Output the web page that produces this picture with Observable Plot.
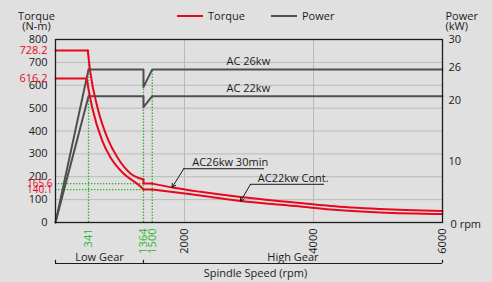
<!DOCTYPE html>
<html><head><meta charset="utf-8">
<script src="https://cdn.jsdelivr.net/npm/d3@7"></script>
<script src="https://cdn.jsdelivr.net/npm/@observablehq/plot@0.6"></script>
<style>
html,body{margin:0;padding:0;background:#dfe0df;}
#chart{position:relative;width:492px;height:282px;overflow:hidden;}
svg{font-family:"Open Sans",sans-serif;display:block;}
</style></head><body><div id="chart"></div>
<script>
// ---- data ----
const torqueTicks = [0, 100, 200, 300, 400, 500, 600, 700, 800];
const redTickValues = [752, 630];
const redTickLabels = ["728.2", "616.2"];
const redTickValuesLow = [170, 144];
const redTickLabelsLow = ["165.6", "140.1"];
const powerTickValues = [30, 25.4, 20, 10];
const powerTickLabels = ["30", "26", "20", "10"];
const speedMarks = [512, 1364, 1500];
const speedMarkLabels = ["341", "1364", "1500"];
const speedTicks = [2000, 4000, 6000];

const lowGearRpm30 = [0, 500, 543, 651, 822, 961, 1163, 1364];
const lowGearTorque30 = [752, 752, 651, 503, 358, 284, 214, 188];
const lowGearRpmCont = [0, 481, 569, 724, 853, 1054, 1318, 1364];
const lowGearTorqueCont = [630, 630, 503, 358, 284, 214, 157, 144];
const shiftRpm30 = [1364, 1364, 1500];
const shiftTorque30 = [188, 170, 170];
const shiftRpmCont = [1364, 1500];
const shiftTorqueCont = [144, 144];
const highGearRpm = [1500, 1814, 2248, 2868, 3798, 4264, 5039, 6000];
const highGearTorque30 = [170, 153, 134, 111, 85, 72, 59, 50];
const highGearTorqueCont = [144, 133, 118, 94, 70, 57, 44, 37];

const powerRpm = [0, 512, 1364, 1364, 1500, 6000];
const power26 = [0, 25.1, 25.1, 22.2, 25.1, 25.1];
const power22 = [0, 20.7, 20.7, 18.9, 20.7, 20.7];

const acLabels = ["AC 26kw", "AC 22kw"];
const acLabelRpm = [2990, 2990];
const acLabelKw = [25.1, 20.7];

const callouts = [
  {text: "AC26kw 30min", tipRpm: 1809, tipT: 154, elbowRpm: 1989, elbowT: 235, textRpm: 2120, endRpm: 3240},
  {text: "AC22kw Cont.", tipRpm: 2868, tipT: 92, elbowRpm: 3023, elbowT: 167, textRpm: 3137, endRpm: 4171}
];
const gears = [
  {name: "Low Gear", from: 0, to: 1364},
  {name: "High Gear", from: 1364, to: 6000}
];

// ---- helpers ----
const K = 800 / 30; // kW -> torque-axis units
const rows = (xs, ys, seg) => xs.map((x, i) => ({x, y: ys[i], seg}));
const RED = "#e8071e", GRAY = "#4f4f4f", GREEN = "#2fb52f", INK = "#1b1b1b";

const straightRed = [
  ...rows(lowGearRpm30.slice(0, 2), lowGearTorque30.slice(0, 2), "a"),
  ...rows(lowGearRpmCont.slice(0, 2), lowGearTorqueCont.slice(0, 2), "b"),
  ...rows(shiftRpm30, shiftTorque30, "c"),
  ...rows(shiftRpmCont, shiftTorqueCont, "d")
];
const curvedRed = [
  ...rows(lowGearRpm30.slice(1), lowGearTorque30.slice(1), "e"),
  ...rows(lowGearRpmCont.slice(1), lowGearTorqueCont.slice(1), "f"),
  ...rows(highGearRpm, highGearTorque30, "g"),
  ...rows(highGearRpm, highGearTorqueCont, "h")
];
const powerRows = [
  ...rows(powerRpm, power26.map(v => v * K), "p26"),
  ...rows(powerRpm, power22.map(v => v * K), "p22")
];
const markTops = [lowGearTorque30[1], power26[3] * K, power26[4] * K];
const rightTicks = powerTickValues.map(v => v * K);

const chart = Plot.plot({
  width: 492, height: 282,
  marginTop: 39, marginBottom: 60, marginLeft: 55, marginRight: 50,
  style: {background: "transparent", fontFamily: "Open Sans", fontSize: "11px", color: INK},
  x: {domain: [0, 6000]},
  y: {domain: [0, 800]},
  marks: [
    Plot.gridY(torqueTicks, {stroke: "#b9bab9", strokeOpacity: 1}),
    Plot.gridX([2000, 4000], {stroke: "#b9bab9", strokeOpacity: 1}),
    // green dotted guides
    Plot.ruleX(speedMarks, {x: d => d, y1: 0, y2: (d, i) => markTops[i], stroke: GREEN, strokeWidth: 1.3, strokeDasharray: "1.4,1.6"}),
    Plot.ruleY(redTickValuesLow, {y: d => d, x1: 0, x2: 1364, stroke: GREEN, strokeWidth: 1.3, strokeDasharray: "1.4,1.6"}),
    // power
    Plot.line(powerRows, {x: "x", y: "y", z: "seg", stroke: GRAY, strokeWidth: 2}),
    // torque
    Plot.line(straightRed, {x: "x", y: "y", z: "seg", stroke: RED, strokeWidth: 2}),
    Plot.line(curvedRed, {x: "x", y: "y", z: "seg", stroke: RED, strokeWidth: 2, curve: "monotone-x"}),
    Plot.frame({stroke: INK, strokeWidth: 1.3}),
    // labels on power lines
    Plot.text(acLabels, {x: (d, i) => acLabelRpm[i], y: (d, i) => acLabelKw[i] * K, text: d => d, dy: -8, fontSize: 11, fill: INK}),
    // callouts
    Plot.ruleY(callouts, {y: "elbowT", x1: "elbowRpm", x2: "endRpm", stroke: INK, strokeWidth: 1}),
    Plot.arrow(callouts, {x1: "elbowRpm", y1: "elbowT", x2: "tipRpm", y2: "tipT", stroke: INK, strokeWidth: 1, headLength: 6}),
    Plot.text(callouts, {x: "textRpm", y: "elbowT", text: "text", textAnchor: "start", dy: -6, fontSize: 11, fill: INK}),
    // axes
    Plot.axisY(torqueTicks, {tickSize: 0, tickPadding: 8, label: null, fontSize: 11, fill: INK}),
    Plot.axisY(redTickValues, {tickSize: 0, tickPadding: 8, label: null, fontSize: 11, fill: RED,
      tickFormat: d => redTickLabels[redTickValues.indexOf(d)]}),
    Plot.axisY(redTickValuesLow, {tickSize: 0, tickPadding: 3, label: null, fontSize: 10, fill: RED,
      tickFormat: d => redTickLabelsLow[redTickValuesLow.indexOf(d)]}),
    Plot.axisY(rightTicks, {anchor: "right", tickSize: 0, tickPadding: 6, label: null, fontSize: 11, fill: INK,
      tickFormat: d => powerTickLabels[rightTicks.indexOf(d)]}),
    Plot.axisX(speedMarks, {tickSize: 0, tickPadding: 6, tickRotate: -90, label: null, fontSize: 11, fill: GREEN,
      tickFormat: d => speedMarkLabels[speedMarks.indexOf(d)]}),
    Plot.axisX(speedTicks, {tickSize: 0, tickPadding: 6, tickRotate: -90, label: null, fontSize: 11, fill: INK,
      tickFormat: d => String(d)}),
    Plot.text(["0 rpm"], {frameAnchor: "bottom-right", dx: 8, dy: 2, textAnchor: "start", lineAnchor: "middle", fontSize: 11, fill: INK}),
    // axis titles
    Plot.text(["Torque\n(N-m)"], {frameAnchor: "top-left", dx: -19, dy: -18, textAnchor: "middle", lineAnchor: "middle", lineHeight: 0.9, fontSize: 11, fill: INK}),
    Plot.text(["Power\n(kW)"], {frameAnchor: "top-right", dx: 3, dy: -18, textAnchor: "start", lineAnchor: "middle", lineHeight: 0.9, fontSize: 11, fill: INK}),
    // gear brackets
    Plot.ruleY([0], {x1: 0, x2: 6000, dy: 41, stroke: INK, strokeWidth: 1.2}),
    Plot.ruleX([0, 1364, 6000], {x: d => d, y1: 0, y2: 14, dy: 41, stroke: INK, strokeWidth: 1.2}),
    Plot.text(gears, {x: d => (d.from + d.to) / 2, frameAnchor: "bottom", lineAnchor: "middle", dy: 35, text: "name", fontSize: 11, fill: INK}),
    Plot.text(["Spindle Speed (rpm)"], {x: 3100, frameAnchor: "bottom", lineAnchor: "middle", dy: 51, fontSize: 11, fill: INK})
  ]
});
document.getElementById("chart").appendChild(chart);

// legend
const svg = d3.select(chart);
const legend = [{label: "Torque", color: RED, x: 177}, {label: "Power", color: GRAY, x: 271}];
const lg = svg.append("g").attr("text-anchor", "start");
legend.forEach(l => {
  lg.append("line").attr("x1", l.x).attr("x2", l.x + 26).attr("y1", 16).attr("y2", 16)
    .attr("stroke", l.color).attr("stroke-width", 2);
  lg.append("text").attr("x", l.x + 31).attr("y", 16).attr("dy", "0.35em")
    .attr("text-anchor", "start").attr("font-size", 11).attr("fill", INK).text(l.label);
});
</script>
</body></html>
